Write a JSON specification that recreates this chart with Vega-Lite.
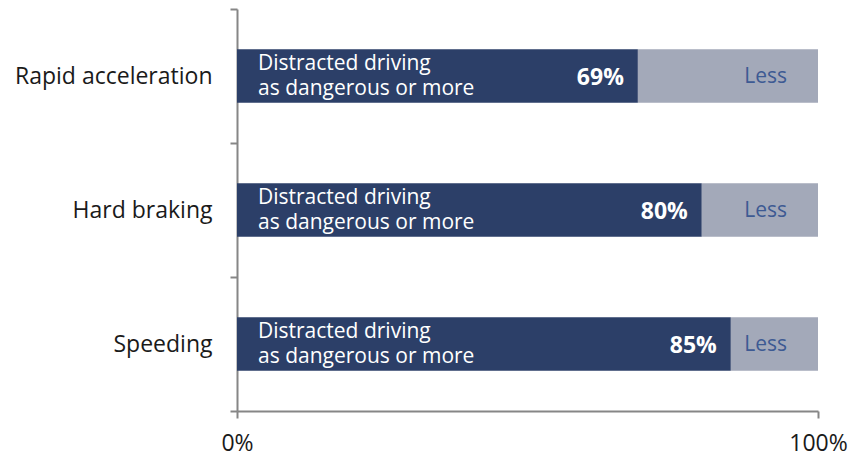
{
  "$schema": "https://vega.github.io/schema/vega-lite/v6.json",
  "autosize": {"type": "none"},
  "padding": {"left": 237, "top": 9, "right": 33, "bottom": 49},
  "width": 581,
  "height": 402,
  "config": {"view": {"stroke": null}, "font": "Open Sans"},
  "data": {
    "values": [
      {"category": "Rapid acceleration", "more": 0.69},
      {"category": "Hard braking", "more": 0.80},
      {"category": "Speeding", "more": 0.85}
    ]
  },
  "encoding": {
    "y": {
      "field": "category",
      "type": "nominal",
      "sort": null,
      "title": null,
      "scale": {"paddingInner": 0, "paddingOuter": 0},
      "axis": {
        "tickBand": "extent",
        "labelFontSize": 23,
        "labelLimit": 400,
        "labelColor": "#1a1a1a",
        "labelPadding": 18,
        "domainColor": "#868686",
        "domainWidth": 2,
        "tickColor": "#868686",
        "tickWidth": 2,
        "tickSize": 7
      }
    }
  },
  "layer": [
    {
      "mark": {"type": "bar", "height": {"band": 0.4}, "color": "#2C3F68"},
      "encoding": {
        "x": {
          "field": "more",
          "type": "quantitative",
          "scale": {"domain": [0, 1], "nice": false},
          "title": null,
          "axis": {
            "values": [0, 1],
            "format": ".0%",
            "grid": false,
            "labelFontSize": 23,
            "labelColor": "#1a1a1a",
            "labelPadding": 14,
            "domainColor": "#868686",
            "domainWidth": 2,
            "tickColor": "#868686",
            "tickWidth": 2,
            "tickSize": 7,
            "labelFlush": false
          }
        }
      }
    },
    {
      "mark": {"type": "bar", "height": {"band": 0.4}, "color": "#A3A9B9"},
      "encoding": {
        "x": {"field": "more", "type": "quantitative"},
        "x2": {"datum": 1}
      }
    },
    {
      "mark": {
        "type": "text",
        "text": ["Distracted driving", "as dangerous or more"],
        "align": "left",
        "baseline": "middle",
        "dx": 21,
        "dy": -12,
        "fontSize": 21,
        "lineHeight": 25,
        "color": "white"
      },
      "encoding": {"x": {"datum": 0, "type": "quantitative"}}
    },
    {
      "mark": {
        "type": "text",
        "align": "right",
        "baseline": "middle",
        "dx": -14,
        "dy": 2,
        "fontSize": 23,
        "fontWeight": "bold",
        "color": "white"
      },
      "encoding": {
        "x": {"field": "more", "type": "quantitative"},
        "text": {"field": "more", "type": "quantitative", "format": ".0%"}
      }
    },
    {
      "mark": {
        "type": "text",
        "text": "Less",
        "align": "right",
        "baseline": "middle",
        "dx": -31,
        "dy": 1,
        "fontSize": 21,
        "color": "#3D5A93"
      },
      "encoding": {"x": {"datum": 1, "type": "quantitative"}}
    }
  ]
}
